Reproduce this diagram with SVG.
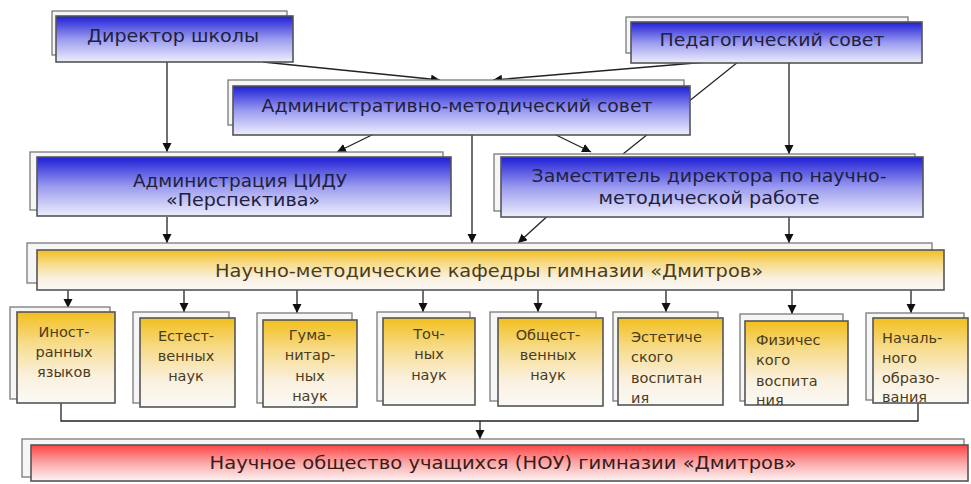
<svg xmlns="http://www.w3.org/2000/svg" width="971" height="484" viewBox="0 0 971 484">
<defs>
<linearGradient id="gBlue" x1="0" y1="0" x2="0" y2="1">
<stop offset="0" stop-color="#1e1ed6"/>
<stop offset="0.5" stop-color="#9a9af0"/>
<stop offset="1" stop-color="#eeeefc"/>
</linearGradient>
<linearGradient id="gYel" x1="0" y1="0" x2="0" y2="1">
<stop offset="0" stop-color="#f2bf1e"/>
<stop offset="0.35" stop-color="#f7dc8c"/>
<stop offset="0.7" stop-color="#faf0de"/>
<stop offset="1" stop-color="#fbf9f6"/>
</linearGradient>
<linearGradient id="gRed" x1="0" y1="0" x2="0" y2="1">
<stop offset="0" stop-color="#ff4444"/>
<stop offset="0.5" stop-color="#fba8a8"/>
<stop offset="1" stop-color="#fbf4f4"/>
</linearGradient>
<marker id="arr" markerWidth="10" markerHeight="10" refX="9" refY="4.5" orient="auto" markerUnits="userSpaceOnUse">
<path d="M0,0 L9,4.5 L0,9 Z" fill="#111"/>
</marker>
</defs>
<style>
.back{fill:#f6f6f6;stroke:#7a7a7a;stroke-width:1.3}
.fb{fill:url(#gBlue);stroke:#555;stroke-width:1.6}
.fy{fill:url(#gYel);stroke:#555;stroke-width:1.6}
.fr{fill:url(#gRed);stroke:#555;stroke-width:1.6}
.c{fill:none;stroke:#222;stroke-width:1.3}
.a{marker-end:url(#arr)}
text{font-family:"DejaVu Sans","Liberation Sans",sans-serif}
.tb{font-size:17px;fill:#20203e;text-anchor:middle}
.ty{font-size:17px;fill:#4a3c1c;text-anchor:middle}
.tr{font-size:17px;fill:#3a1a1a;text-anchor:middle}
.ts{font-size:14.5px;fill:#4a3c1c;text-anchor:middle}
.tl{font-size:14.5px;fill:#4a3c1c}
</style>
<rect width="971" height="484" fill="#ffffff"/>
<g id="connectors">
<path class="c" d="M738,62 L623,154"/>
<path class="c a" d="M167,62 V152"/>
<path class="c a" d="M263,62 L440,80"/>
<path class="c a" d="M707,62 L493,80"/>
<path class="c a" d="M789,63 V154"/>
<path class="c a" d="M552,133 L591,152"/>
<path class="c a" d="M378,132 L337,152"/>
<path class="c a" d="M472,135 V243"/>
<path class="c a" d="M167,217 V243"/>
<path class="c a" d="M552,212 L518,243"/>
<path class="c a" d="M789,217 V243"/>
<path class="c a" d="M68,290 V308"/>
<path class="c a" d="M184,290 V312"/>
<path class="c a" d="M297,290 V313"/>
<path class="c a" d="M423,290 V312"/>
<path class="c a" d="M538,290 V312"/>
<path class="c a" d="M666,290 V312"/>
<path class="c a" d="M792,290 V314"/>
<path class="c a" d="M911,290 V313"/>
<path class="c" d="M61,403 V421 H918 V403"/>
<path class="c a" d="M480,421 V439"/>
</g>
<g id="director">
<rect class="back" x="52" y="11" width="235" height="44"/>
<rect class="fb" x="56" y="16" width="237" height="46"/>
<text class="tb" x="173" y="42" textLength="172" lengthAdjust="spacingAndGlyphs">Директор школы</text>
</g>
<g id="pedsovet">
<rect class="back" x="626" y="17" width="282" height="36"/>
<rect class="fb" x="631" y="22" width="291" height="41"/>
<text class="tb" x="772" y="46" textLength="225" lengthAdjust="spacingAndGlyphs">Педагогический совет</text>
</g>
<g id="ams">
<rect class="back" x="228" y="80" width="456" height="45"/>
<rect class="fb" x="233" y="86" width="457" height="49"/>
<text class="tb" x="457" y="112" textLength="391" lengthAdjust="spacingAndGlyphs">Административно-методический совет</text>
</g>
<g id="cidu">
<rect class="back" x="30" y="152" width="413" height="58"/>
<rect class="fb" x="37" y="157" width="414" height="59"/>
<text class="tb" x="240" y="187" textLength="214" lengthAdjust="spacingAndGlyphs">Администрация ЦИДУ</text>
<text class="tb" x="243" y="206" textLength="154" lengthAdjust="spacingAndGlyphs">«Перспектива»</text>
</g>
<g id="deputy">
<rect class="back" x="494" y="154" width="421" height="57"/>
<rect class="fb" x="501" y="157" width="422" height="60"/>
<text class="tb" x="709" y="182" textLength="355" lengthAdjust="spacingAndGlyphs">Заместитель директора по научно-</text>
<text class="tb" x="709" y="204" textLength="221" lengthAdjust="spacingAndGlyphs">методической работе</text>
</g>
<g id="kafedry">
<rect class="back" x="27" y="243" width="905" height="40"/>
<rect class="fy" x="37" y="250" width="907" height="40"/>
<text class="ty" x="489" y="277" textLength="548" lengthAdjust="spacingAndGlyphs">Научно-методические кафедры гимназии «Дмитров»</text>
</g>
<g id="k1">
<rect class="back" x="10" y="307" width="100" height="92"/>
<rect class="fy" x="17" y="312" width="98" height="91"/>
<text class="ts" x="64" y="337">Иност-</text>
<text class="ts" x="64" y="357">ранных</text>
<text class="ts" x="64" y="377">языков</text>
</g>
<g id="k2">
<rect class="back" x="133" y="312" width="96" height="91"/>
<rect class="fy" x="140" y="318" width="95" height="89"/>
<text class="ts" x="186" y="341">Естест-</text>
<text class="ts" x="186" y="361">венных</text>
<text class="ts" x="186" y="381">наук</text>
</g>
<g id="k3">
<rect class="back" x="257" y="313" width="95" height="90"/>
<rect class="fy" x="263" y="320" width="94" height="87"/>
<text class="ts" x="310" y="340">Гума-</text>
<text class="ts" x="310" y="360">нитар-</text>
<text class="ts" x="310" y="381">ных</text>
<text class="ts" x="310" y="401">наук</text>
</g>
<g id="k4">
<rect class="back" x="377" y="312" width="93" height="89"/>
<rect class="fy" x="383" y="318" width="92" height="87"/>
<text class="ts" x="429" y="339">Точ-</text>
<text class="ts" x="429" y="359">ных</text>
<text class="ts" x="429" y="380">наук</text>
</g>
<g id="k5">
<rect class="back" x="490" y="312" width="106" height="89"/>
<rect class="fy" x="498" y="318" width="105" height="88"/>
<text class="ts" x="548" y="340">Общест-</text>
<text class="ts" x="548" y="360">венных</text>
<text class="ts" x="548" y="380">наук</text>
</g>
<g id="k6">
<rect class="back" x="613" y="312" width="105" height="89"/>
<rect class="fy" x="618" y="318" width="105" height="87"/>
<text class="tl" x="631" y="342">Эстетиче</text>
<text class="tl" x="631" y="362">ского</text>
<text class="tl" x="631" y="383">воспитан</text>
<text class="tl" x="631" y="403">ия</text>
</g>
<g id="k7">
<rect class="back" x="740" y="314" width="103" height="87"/>
<rect class="fy" x="745" y="321" width="103" height="84"/>
<text class="tl" x="756" y="345">Физичес</text>
<text class="tl" x="756" y="365">кого</text>
<text class="tl" x="756" y="386">воспита</text>
<text class="tl" x="756" y="405">ния</text>
</g>
<g id="k8">
<rect class="back" x="866" y="313" width="98" height="87"/>
<rect class="fy" x="873" y="318" width="95" height="85"/>
<text class="tl" x="882" y="343">Началь-</text>
<text class="tl" x="882" y="363">ного</text>
<text class="tl" x="882" y="383">образо-</text>
<text class="tl" x="882" y="402">вания</text>
</g>
<g id="nou">
<rect class="back" x="22" y="439" width="942" height="38"/>
<rect class="fr" x="31" y="445" width="937" height="36"/>
<text class="tr" x="503" y="469" textLength="587" lengthAdjust="spacingAndGlyphs">Научное общество учащихся (НОУ) гимназии «Дмитров»</text>
</g>
</svg>
